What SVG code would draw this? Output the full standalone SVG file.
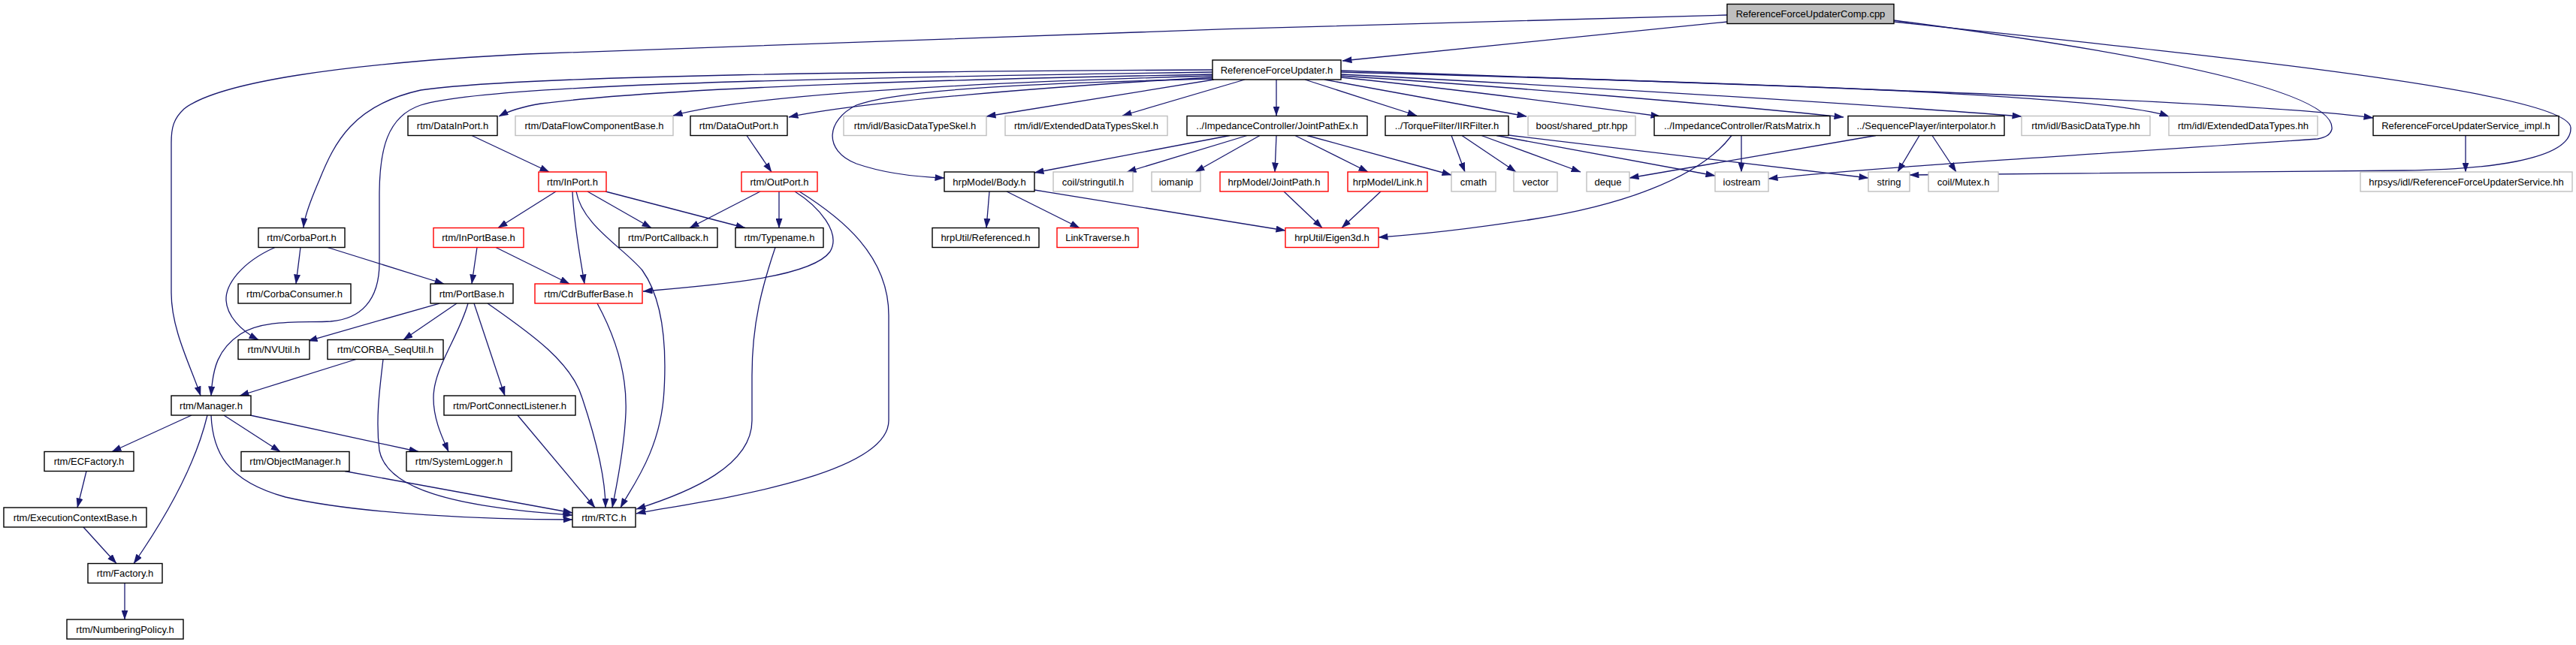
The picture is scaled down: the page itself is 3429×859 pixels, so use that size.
<svg xmlns="http://www.w3.org/2000/svg" width="3429" height="859" viewBox="0 0 3429 859">
<style>
text{font-family:"Liberation Sans",Arial,sans-serif;font-size:13px;fill:#000;text-anchor:middle}
.n rect{fill:#fff;stroke:#000;stroke-width:1.4}
.g rect{fill:#fff;stroke:#bfbfbf;stroke-width:1.4}
.r rect{fill:#fff;stroke:#ff0000;stroke-width:1.4}
.root rect{fill:#bfbfbf;stroke:#000;stroke-width:1.4}
#edges path{fill:none;stroke:#191970;stroke-width:1.3;marker-end:url(#a)}
</style>
<defs>
<marker id="a" markerWidth="13" markerHeight="9" refX="12.5" refY="4.5" orient="auto" markerUnits="userSpaceOnUse"><path d="M0,0L13,4.5L0,9z" fill="#191970"/></marker>
</defs>
<rect width="3429" height="859" fill="#fff"/>
<g id="edges">
<path d="M2300,29L1787,81"/>
<path d="M2299,20C1800,32 1100,55 700,72C450,85 290,110 245,145C231,158 228,170 228,190L228,390C228,440 255,490 267,527"/>
<path d="M2521,27C2850,70 3110,120 3104,172C3102,180 3095,183 3085,185C2800,205 2500,222 2354,238"/>
<path d="M2521,29C2900,70 3420,120 3422,170C3424,215 3300,226 3200,227L2542,233"/>
<path d="M1614,93C1200,95 700,100 560,120C470,140 445,190 425,240C412,270 405,290 404,303"/>
<path d="M1614,96C1000,105 640,115 560,140C515,155 505,200 505,260L505,350C505,400 480,425 440,428C400,430 350,425 320,445C290,465 283,490 281,527"/>
<path d="M1614,99C1300,105 900,115 720,138C690,143 675,149 664,155"/>
<path d="M1614,101C1300,110 1000,125 896,154"/>
<path d="M1614,103C1400,115 1150,135 1050,156"/>
<path d="M1614,105C1400,110 1200,118 1140,140C1100,160 1095,200 1140,218C1180,232 1230,236 1257,237"/>
<path d="M1616,106L1313,155"/>
<path d="M1657,106L1494,154"/>
<path d="M1699,106L1699,154"/>
<path d="M1737,106L1886,154"/>
<path d="M1763,106L2032,155"/>
<path d="M1785,103C1950,120 2100,140 2210,155"/>
<path d="M1785,101C2000,115 2300,140 2454,156"/>
<path d="M1785,99C2100,115 2500,140 2691,155"/>
<path d="M1785,96C2300,110 2800,125 2887,155"/>
<path d="M1785,94C2400,115 3000,135 3159,157"/>
<path d="M1637,180.5L1377,230"/>
<path d="M1660,180.5L1500,229"/>
<path d="M1677,180.5L1591,229"/>
<path d="M1699,180.5L1697,229"/>
<path d="M1724,180.5L1821,229"/>
<path d="M1740,180.5L1932,233"/>
<path d="M1932,180.5L1950,229"/>
<path d="M1946,180.5L2018,229"/>
<path d="M1972,180.5L2104,229"/>
<path d="M1992,180.5L2283,234"/>
<path d="M2008,180L2487,237"/>
<path d="M2318,180.5L2318,229"/>
<path d="M2305,180.5C2260,240 2150,275 2040,292C1950,306 1880,313 1835,316"/>
<path d="M2497,180.5L2169,237"/>
<path d="M2555,180.5L2526,229"/>
<path d="M2572,180.5L2604,229"/>
<path d="M3282,180.5L3282,229"/>
<path d="M1317,255L1313,303.5"/>
<path d="M1340,255L1437,303.5"/>
<path d="M1377,253L1711,307"/>
<path d="M1709,255L1760,303.5"/>
<path d="M1838,255L1786,303.5"/>
<path d="M628,180.5L731,229"/>
<path d="M994,180.5L1027,229"/>
<path d="M740,255L663,303.5"/>
<path d="M762,255C764,300 772,340 778,378"/>
<path d="M767,255C775,300 830,330 855,360C880,395 888,450 884,520C880,600 840,650 826,676"/>
<path d="M782,255L867,303.5"/>
<path d="M806,255L992,303.5"/>
<path d="M1012,255L918,303.5"/>
<path d="M1037,255L1037,303.5"/>
<path d="M1058,255C1090,275 1120,310 1105,335C1080,370 950,380 856,388"/>
<path d="M1064,255C1120,290 1183,340 1183,420L1183,560C1183,640 900,672 847,684"/>
<path d="M1032,329.5C1015,380 1001,430 1001,500L1001,560C1001,620 920,655 847,678"/>
<path d="M635,329.5L628,378"/>
<path d="M660,329.5L758,378"/>
<path d="M400,329.5L394,378"/>
<path d="M436,329.5L591,378"/>
<path d="M366,329.5C320,350 300,380 301,400C302,420 320,440 344,452.5"/>
<path d="M585,404L410,454"/>
<path d="M608,404L537,452.5"/>
<path d="M623,404C610,450 577,490 577,530C577,560 590,585 597,601.5"/>
<path d="M631,404L672,527"/>
<path d="M649,404C700,440 760,480 775,530C795,590 806,640 806,676"/>
<path d="M474,478.5L319,527"/>
<path d="M510,478.5C505,520 500,560 505,600C515,650 600,675 762,686"/>
<path d="M255,553L149,601.5"/>
<path d="M298,553L373,601.5"/>
<path d="M333,553L557,601.5"/>
<path d="M276,553C260,620 220,690 178,750.5"/>
<path d="M281,553C283,600 300,640 380,662C480,685 650,692 762,692"/>
<path d="M459,627.5L762,683"/>
<path d="M115,627.5L103,676"/>
<path d="M111,702L155,750.5"/>
<path d="M166,776.5L166,825"/>
<path d="M689,553L792,676"/>
<path d="M795,404C820,450 835,500 833,550C831,600 820,650 815,676"/>
</g>
<g id="n_root" class="root"><rect x="2299" y="5.5" width="222" height="26"/><text x="2410" y="23">ReferenceForceUpdaterComp.cpp</text></g>
<g id="n_rfu" class="n"><rect x="1614" y="80" width="171" height="26"/><text x="1699.5" y="97.5">ReferenceForceUpdater.h</text></g>
<g id="n_datainport" class="n"><rect x="543" y="154.5" width="119" height="26"/><text x="602.5" y="172">rtm/DataInPort.h</text></g>
<g id="n_dfcb" class="g"><rect x="686" y="154.5" width="210" height="26"/><text x="791" y="172">rtm/DataFlowComponentBase.h</text></g>
<g id="n_dataoutport" class="n"><rect x="919" y="154.5" width="129" height="26"/><text x="983.5" y="172">rtm/DataOutPort.h</text></g>
<g id="n_bdtskel" class="g"><rect x="1123" y="154.5" width="190" height="26"/><text x="1218" y="172">rtm/idl/BasicDataTypeSkel.h</text></g>
<g id="n_edtskel" class="g"><rect x="1338" y="154.5" width="216" height="26"/><text x="1446" y="172">rtm/idl/ExtendedDataTypesSkel.h</text></g>
<g id="n_jointpathex" class="n"><rect x="1580" y="154.5" width="240" height="26"/><text x="1700" y="172">../ImpedanceController/JointPathEx.h</text></g>
<g id="n_iirfilter" class="n"><rect x="1844" y="154.5" width="164" height="26"/><text x="1926" y="172">../TorqueFilter/IIRFilter.h</text></g>
<g id="n_boost" class="g"><rect x="2034" y="154.5" width="143" height="26"/><text x="2105.5" y="172">boost/shared_ptr.hpp</text></g>
<g id="n_ratsmatrix" class="n"><rect x="2202" y="154.5" width="234" height="26"/><text x="2319" y="172">../ImpedanceController/RatsMatrix.h</text></g>
<g id="n_interpolator" class="n"><rect x="2460" y="154.5" width="208" height="26"/><text x="2564" y="172">../SequencePlayer/interpolator.h</text></g>
<g id="n_bdthh" class="g"><rect x="2691" y="154.5" width="171" height="26"/><text x="2776.5" y="172">rtm/idl/BasicDataType.hh</text></g>
<g id="n_edthh" class="g"><rect x="2887" y="154.5" width="198" height="26"/><text x="2986" y="172">rtm/idl/ExtendedDataTypes.hh</text></g>
<g id="n_serviceimpl" class="n"><rect x="3159" y="154.5" width="247" height="26"/><text x="3282.5" y="172">ReferenceForceUpdaterService_impl.h</text></g>
<g id="n_inport" class="r"><rect x="717" y="229" width="90" height="26"/><text x="762" y="246.5">rtm/InPort.h</text></g>
<g id="n_outport" class="r"><rect x="987" y="229" width="101" height="26"/><text x="1037.5" y="246.5">rtm/OutPort.h</text></g>
<g id="n_body" class="n"><rect x="1257" y="229" width="120" height="26"/><text x="1317" y="246.5">hrpModel/Body.h</text></g>
<g id="n_stringutil" class="g"><rect x="1402" y="229" width="106" height="26"/><text x="1455" y="246.5">coil/stringutil.h</text></g>
<g id="n_iomanip" class="g"><rect x="1533" y="229" width="65" height="26"/><text x="1565.5" y="246.5">iomanip</text></g>
<g id="n_jointpath" class="r"><rect x="1624" y="229" width="144" height="26"/><text x="1696" y="246.5">hrpModel/JointPath.h</text></g>
<g id="n_link" class="r"><rect x="1794" y="229" width="106" height="26"/><text x="1847" y="246.5">hrpModel/Link.h</text></g>
<g id="n_cmath" class="g"><rect x="1932" y="229" width="59" height="26"/><text x="1961.5" y="246.5">cmath</text></g>
<g id="n_vector" class="g"><rect x="2015" y="229" width="58" height="26"/><text x="2044" y="246.5">vector</text></g>
<g id="n_deque" class="g"><rect x="2112" y="229" width="57" height="26"/><text x="2140.5" y="246.5">deque</text></g>
<g id="n_iostream" class="g"><rect x="2283" y="229" width="71" height="26"/><text x="2318.5" y="246.5">iostream</text></g>
<g id="n_string" class="g"><rect x="2487" y="229" width="55" height="26"/><text x="2514.5" y="246.5">string</text></g>
<g id="n_mutex" class="g"><rect x="2567" y="229" width="93" height="26"/><text x="2613.5" y="246.5">coil/Mutex.h</text></g>
<g id="n_servicehh" class="g"><rect x="3142" y="229" width="282" height="26"/><text x="3283" y="246.5">hrpsys/idl/ReferenceForceUpdaterService.hh</text></g>
<g id="n_corbaport" class="n"><rect x="344" y="303.5" width="115" height="26"/><text x="401.5" y="321">rtm/CorbaPort.h</text></g>
<g id="n_inportbase" class="r"><rect x="577" y="303.5" width="120" height="26"/><text x="637" y="321">rtm/InPortBase.h</text></g>
<g id="n_portcallback" class="n"><rect x="824" y="303.5" width="131" height="26"/><text x="889.5" y="321">rtm/PortCallback.h</text></g>
<g id="n_typename" class="n"><rect x="979" y="303.5" width="117" height="26"/><text x="1037.5" y="321">rtm/Typename.h</text></g>
<g id="n_referenced" class="n"><rect x="1241" y="303.5" width="142" height="26"/><text x="1312" y="321">hrpUtil/Referenced.h</text></g>
<g id="n_linktraverse" class="r"><rect x="1407" y="303.5" width="108" height="26"/><text x="1461" y="321">LinkTraverse.h</text></g>
<g id="n_eigen3d" class="r"><rect x="1711" y="303.5" width="124" height="26"/><text x="1773" y="321">hrpUtil/Eigen3d.h</text></g>
<g id="n_corbaconsumer" class="n"><rect x="317" y="378" width="150" height="26"/><text x="392" y="395.5">rtm/CorbaConsumer.h</text></g>
<g id="n_portbase" class="n"><rect x="573" y="378" width="110" height="26"/><text x="628" y="395.5">rtm/PortBase.h</text></g>
<g id="n_cdrbufferbase" class="r"><rect x="712" y="378" width="143" height="26"/><text x="783.5" y="395.5">rtm/CdrBufferBase.h</text></g>
<g id="n_nvutil" class="n"><rect x="317" y="452.5" width="95" height="26"/><text x="364.5" y="470">rtm/NVUtil.h</text></g>
<g id="n_sequtil" class="n"><rect x="436" y="452.5" width="154" height="26"/><text x="513" y="470">rtm/CORBA_SeqUtil.h</text></g>
<g id="n_manager" class="n"><rect x="228" y="527" width="106" height="26"/><text x="281" y="544.5">rtm/Manager.h</text></g>
<g id="n_portconnectlistener" class="n"><rect x="591" y="527" width="175" height="26"/><text x="678.5" y="544.5">rtm/PortConnectListener.h</text></g>
<g id="n_ecfactory" class="n"><rect x="59" y="601.5" width="119" height="26"/><text x="118.5" y="619">rtm/ECFactory.h</text></g>
<g id="n_objectmanager" class="n"><rect x="321" y="601.5" width="144" height="26"/><text x="393" y="619">rtm/ObjectManager.h</text></g>
<g id="n_systemlogger" class="n"><rect x="541" y="601.5" width="140" height="26"/><text x="611" y="619">rtm/SystemLogger.h</text></g>
<g id="n_ecbase" class="n"><rect x="5" y="676" width="190" height="26"/><text x="100" y="693.5">rtm/ExecutionContextBase.h</text></g>
<g id="n_rtc" class="n"><rect x="762" y="676" width="84" height="26"/><text x="804" y="693.5">rtm/RTC.h</text></g>
<g id="n_factory" class="n"><rect x="117" y="750.5" width="99" height="26"/><text x="166.5" y="768">rtm/Factory.h</text></g>
<g id="n_numberingpolicy" class="n"><rect x="89" y="825" width="155" height="26"/><text x="166.5" y="842.5">rtm/NumberingPolicy.h</text></g>
</svg>
